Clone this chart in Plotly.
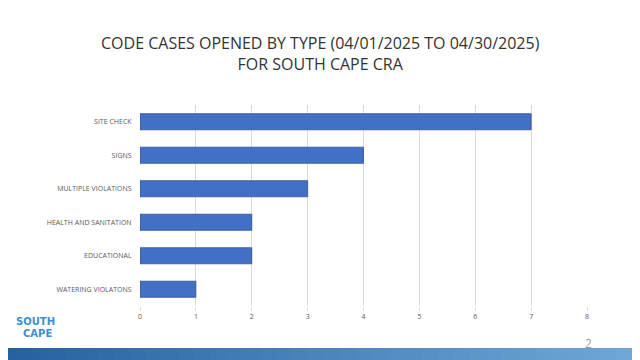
import plotly.graph_objects as go

categories = ["SITE CHECK", "SIGNS", "MULTIPLE VIOLATIONS", "HEALTH AND SANITATION",
              "EDUCATIONAL", "WATERING VIOLATONS"]
values = [7, 4, 3, 2, 2, 1]
x_ticks = [0, 1, 2, 3, 4, 5, 6, 7, 8]
title_text = "CODE CASES OPENED BY TYPE (04/01/2025 TO 04/30/2025)<br>FOR SOUTH CAPE CRA"

# page has an 8px body margin: figure is drawn from (8,8)
W, H = 632, 352
L, R, T, B = 132, 53, 97, 54
PW, PH = W - L - R, H - T - B

def px(xf):  # figure x pixel -> paper
    return (xf - L) / PW

def py(yf):  # figure y pixel -> paper
    return 1 - (yf - T) / PH

fig = go.Figure()
fig.add_trace(go.Bar(
    y=categories, x=values, orientation="h",
    marker=dict(color="#4170C6", line=dict(color="#2F528F", width=0.8)),
    width=0.48,
))

shapes = []
n = 40
c0 = (38, 98, 160)
c1 = (112, 168, 216)
for i in range(n):
    t = i / (n - 1)
    col = tuple(int(c0[k] + (c1[k] - c0[k]) * t) for k in range(3))
    xa = -8 + i * 648 / n
    xb = -8 + (i + 1) * 648 / n + 1
    shapes.append(dict(type="rect", xref="paper", yref="paper",
                       x0=px(xa), x1=px(xb), y0=py(H + 2), y1=py(340),
                       line=dict(width=0), fillcolor="rgb(%d,%d,%d)" % col, layer="below"))

annotations = [
    dict(text=title_text, xref="paper", yref="paper", x=px(312), y=py(45),
         showarrow=False, xanchor="center", yanchor="middle",
         font=dict(family="Open Sans", size=16, color="#333333")),
    dict(text="2", xref="paper", yref="paper", x=px(580), y=py(335),
         showarrow=False, xanchor="center", yanchor="middle",
         font=dict(family="Open Sans", size=12, color="#A0A0A0")),
    # logo (approximation)
    dict(text="<b>SOUTH</b>", xref="paper", yref="paper", x=px(27), y=py(313),
         showarrow=False, xanchor="center", yanchor="middle",
         font=dict(family="DejaVu Sans", size=10, color="#3C8FD3")),
    dict(text="<b>CAPE</b>", xref="paper", yref="paper", x=px(29), y=py(325),
         showarrow=False, xanchor="center", yanchor="middle",
         font=dict(family="DejaVu Sans", size=10, color="#3C8FD3")),
]

fig.update_layout(
    width=W, height=H,
    margin=dict(l=L, r=R, t=T, b=B),
    paper_bgcolor="white", plot_bgcolor="white",
    xaxis=dict(range=[0, 8], tickvals=x_ticks, showgrid=True, gridcolor="#D9D9D9",
               gridwidth=1, zeroline=False, showline=False,
               tickfont=dict(family="Open Sans", size=7, color="#595959"),
               ticks="outside", ticklen=4, tickcolor="#D9D9D9", fixedrange=True),
    yaxis=dict(autorange="reversed", showgrid=False, showline=False,
               tickfont=dict(family="Open Sans", size=7, color="#595959"),
               ticks="outside", ticklen=6, tickcolor="white"),
    showlegend=False,
    bargap=0.5,
    shapes=shapes,
    annotations=annotations,
)

fig.write_html("out.html")
